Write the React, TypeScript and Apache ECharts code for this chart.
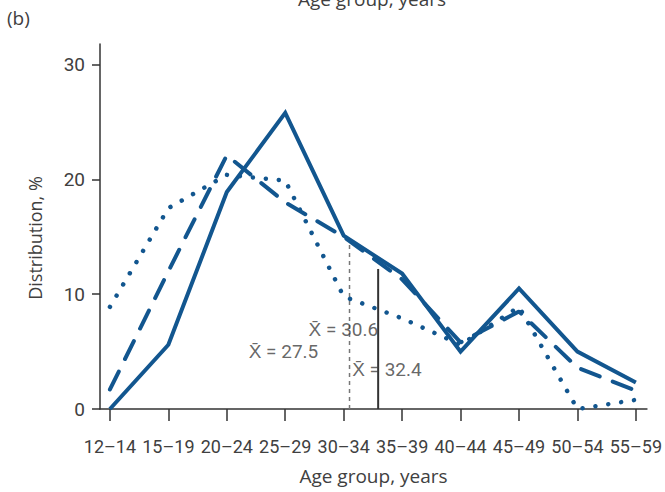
import React, { useEffect, useRef } from "react";
import * as echarts from "echarts";

const categories = ["12–14", "15–19", "20–24", "25–29", "30–34", "35–39", "40–44", "45–49", "50–54", "55–59"];
const solidValues = [0, 5.6, 18.9, 25.8, 15.1, 11.8, 5.0, 10.5, 5.0, 2.3];
const dashedValues = [1.7, 12.0, 22.1, 18.0, 15.0, 11.3, 5.8, 8.5, 3.6, 1.6];
const dottedValues = [8.9, 17.5, 20.4, 19.9, 9.8, 7.9, 5.6, 8.9, 0, 0.8];
const yTicks = [0, 10, 20, 30];
// mean markers: x position on category scale, top of vertical line
const meanLineDashed = { x: 4.1, top: 14.7 };
const meanLineSolid = { x: 4.59, top: 12.2 };
const meanLabels = [
  { text: "X̄ = 30.6", x: 3.995, y: 6.96 },
  { text: "X̄ = 27.5", x: 2.97, y: 5.04 },
  { text: "X̄ = 32.4", x: 4.74, y: 3.48 },
];

const BLUE = "#12568f";
const TEXT = "#404040";
const AXIS = "#333";
const FONT = "'Open Sans', 'Liberation Sans', sans-serif";
const NARROW = "Roboto, 'Liberation Sans', sans-serif";

export default function App() {
  const ref = useRef<HTMLDivElement>(null);
  useEffect(() => {
    if (!ref.current) return;
    const chart = echarts.init(ref.current, null, { renderer: "svg" });
    const toPts = (arr: number[]) => arr.map((v, i) => [i, v]);
    chart.setOption({
      animation: false,
      backgroundColor: "#fff",
      textStyle: { fontFamily: FONT },
      grid: { left: 100, right: 16, top: 44, bottom: 83, containLabel: false },
      xAxis: {
        type: "value",
        min: -0.17,
        max: 9.19,
        splitLine: { show: false },
        axisLine: { onZero: false, lineStyle: { color: AXIS, width: 1.5 } },
        axisTick: {
          show: true,
          length: 12,
          customValues: categories.map((_, i) => i),
          lineStyle: { color: AXIS, width: 1.5 },
        },
        axisLabel: {
          customValues: categories.map((_, i) => i),
          formatter: (v: number) => categories[Math.round(v)] ?? "",
          color: TEXT,
          fontSize: 18,
          fontFamily: NARROW,
          margin: 28,
        },
        name: "Age group, years",
        nameLocation: "middle",
        nameGap: 57,
        nameTextStyle: { color: TEXT, fontSize: 19, fontFamily: FONT },
      },
      yAxis: {
        type: "value",
        min: 0,
        max: 31.8,
        splitLine: { show: false },
        axisLine: { show: true, onZero: false, lineStyle: { color: AXIS, width: 1.5 } },
        axisTick: {
          show: true,
          length: 8,
          customValues: yTicks,
          lineStyle: { color: AXIS, width: 1.5 },
        },
        axisLabel: {
          customValues: yTicks,
          color: TEXT,
          fontSize: 19,
          fontFamily: NARROW,
          margin: 15,
        },
      },
      series: [
        {
          type: "line",
          data: [[meanLineDashed.x, 0], [meanLineDashed.x, meanLineDashed.top]],
          symbol: "none",
          silent: true,
          lineStyle: { color: "#777", width: 1.5, type: [4, 4] },
          z: 1,
        },
        {
          type: "line",
          data: [[meanLineSolid.x, 0], [meanLineSolid.x, meanLineSolid.top]],
          symbol: "none",
          silent: true,
          lineStyle: { color: "#333", width: 2 },
          z: 1,
        },
        {
          type: "scatter",
          data: meanLabels.map((m) => [m.x, m.y]),
          symbolSize: 0,
          silent: true,
          label: {
            show: true,
            position: "inside",
            formatter: (p: any) => meanLabels[p.dataIndex].text,
            color: TEXT,
            fontSize: 19,
            fontFamily: NARROW,
            textBorderWidth: 0,
          },
          z: 3,
        },
        {
          type: "line",
          data: toPts(dottedValues),
          symbol: "none",
          lineStyle: { color: BLUE, width: 4.5, type: [0.01, 13], cap: "round" },
          z: 2,
        },
        {
          type: "line",
          data: toPts(dashedValues),
          symbol: "none",
          lineStyle: { color: BLUE, width: 4, type: [20, 14], cap: "round" },
          z: 2,
        },
        {
          type: "line",
          data: toPts(solidValues),
          symbol: "none",
          lineStyle: { color: BLUE, width: 4, join: "miter" },
          z: 2,
        },
      ],
      graphic: [
        {
          type: "text",
          left: 7,
          top: 8,
          style: { text: "(b)", fill: TEXT, font: `19px ${FONT}` },
        },
        {
          type: "text",
          x: 372,
          y: 8,
          style: {
            text: "Age group, years",
            fill: TEXT,
            font: `19px ${FONT}`,
            align: "center",
            verticalAlign: "bottom",
          },
        },
        {
          type: "text",
          x: 35,
          y: 238,
          rotation: Math.PI / 2,
          style: {
            text: "Distribution, %",
            fill: TEXT,
            font: `18px ${FONT}`,
            align: "center",
            verticalAlign: "middle",
          },
        },
      ],
    });
    return () => chart.dispose();
  }, []);
  return <div ref={ref} style={{ width: 665, height: 492, position: "absolute", left: 0, top: 0 }} />;
}
